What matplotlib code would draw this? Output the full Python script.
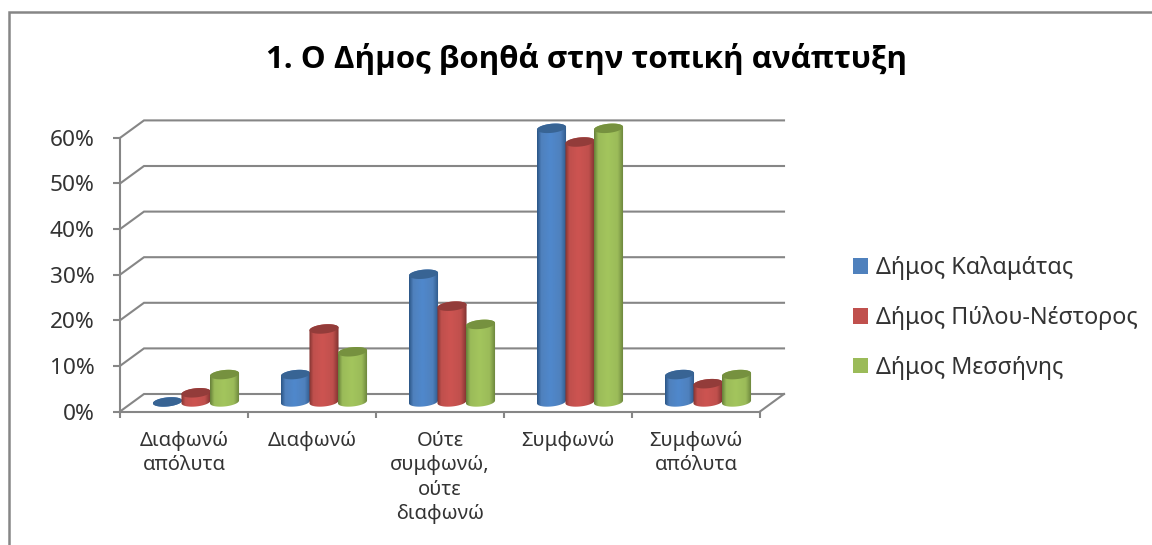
import numpy as np
import matplotlib.pyplot as plt
from matplotlib.colors import LinearSegmentedColormap
from matplotlib.lines import Line2D
from matplotlib.patches import Patch, PathPatch
from matplotlib.path import Path

title = "1. Ο Δήμος βοηθά στην τοπική ανάπτυξη"
categories = ["Διαφωνώ\nαπόλυτα", "Διαφωνώ", "Ούτε\nσυμφωνώ,\nούτε\nδιαφωνώ", "Συμφωνώ", "Συμφωνώ\nαπόλυτα"]
kalamata = [0, 6, 28, 60, 6]
pylos = [2, 16, 21, 57, 4]
messini = [6, 11, 17, 60, 6]
series_names = ["Δήμος Καλαμάτας", "Δήμος Πύλου-Νέστορος", "Δήμος Μεσσήνης"]
y_ticks = [0, 10, 20, 30, 40, 50, 60]

# main colour, edge colour, top colour, highlight
colors = [("#4f81bd", "#2c5687", "#386494", "#4f88cc"),
          ("#c0504d", "#7f3230", "#933c3a", "#cd5451"),
          ("#9bbb59", "#67803a", "#76913f", "#a3c55d")]
GREY = "#868686"
W, H = 1152, 545

plt.rcParams['font.family'] = ['Noto Sans', 'DejaVu Sans']
fig = plt.figure(figsize=(W / 100, H / 100), dpi=100)
ax = fig.add_axes([120 / W, 1 - 411.5 / H, 640 / W, 273.6 / H])
ax.set_xlim(0, 5)
ax.set_ylim(0, 60)

# depth of the fake 3d box, in data units
depth_x = 24 / 128
depth_y = 17.5 / 4.56
bar_w = 0.2227
rx = bar_w / 2 * 1.02
ry = 1.0
tilt = 0.3


def ellipse_xy(cx, cy, t):
    return cx + rx * np.cos(t), cy + ry * np.sin(t) + tilt * np.cos(t)


def draw_cylinder(cx, base, value, col):
    main, edge, top, light = col
    t_low = np.linspace(np.pi, 2 * np.pi, 30)
    t_up = np.linspace(0, np.pi, 30)
    xb, yb = ellipse_xy(cx, base, t_low)
    xt, yt = ellipse_xy(cx, base + value, t_up)
    pts = np.column_stack([np.r_[xb, xt], np.r_[yb, yt]])
    clip = PathPatch(Path(np.vstack([pts, pts[0]]), closed=True), fc="none", ec="none",
                     transform=ax.transData, clip_on=False)
    ax.add_patch(clip)
    cmap = LinearSegmentedColormap.from_list(
        "c", [(0, edge), (0.14, main), (0.45, light), (0.8, main), (1, edge)])
    img = ax.imshow(np.linspace(0, 1, 64).reshape(1, -1), cmap=cmap, aspect="auto",
                    extent=(cx - rx, cx + rx, base - ry - tilt, base + value + ry + tilt),
                    zorder=3)
    # the top of the cylinder goes past the axes box
    img.set_clip_box(fig.bbox)
    img.set_clip_path(clip)
    xc, yc = ellipse_xy(cx, base + value, np.linspace(0, 2 * np.pi, 60))
    ax.fill(xc, yc, color=top, lw=0, zorder=3, clip_on=False)
    ax.set_xlim(0, 5)
    ax.set_ylim(0, 60)


# back wall lines
for v in y_ticks:
    ax.plot([0, depth_x, 5 + depth_x], [v, v + depth_y, v + depth_y], color=GREY, lw=1.5,
            clip_on=False, zorder=1, solid_joinstyle="miter")
ax.plot([5, 5 + depth_x], [0, depth_y], color=GREY, lw=1.5, clip_on=False, zorder=1)

for k, vals in enumerate([kalamata, pylos, messini]):
    for i, v in enumerate(vals):
        draw_cylinder(i + 0.5 + depth_x / 2 + (k - 1) * bar_w, 2.1, v, colors[k])

for s in ["top", "right"]:
    ax.spines[s].set_visible(False)
for s in ["left", "bottom"]:
    ax.spines[s].set_color(GREY)
    ax.spines[s].set_linewidth(1.5)
ax.patch.set_visible(False)

ax.set_yticks(y_ticks)
ax.set_yticklabels([f"{v}%" for v in y_ticks], fontsize=16.3, color="#333333")
ax.tick_params(axis="y", length=5, width=1.5, color=GREY, pad=13.5)
ax.set_xticks(range(6))
ax.set_xticklabels([])
ax.set_xticks(np.arange(5) + 0.5, categories, minor=True, fontsize=14.5, color="#333333",
              linespacing=1.3)
ax.tick_params(axis="x", which="major", length=4.5, width=1.5, color=GREY)
ax.tick_params(axis="x", which="minor", length=0, pad=14)

fig.text(586 / W, 1 - 59 / H, title, ha="center", va="center", fontsize=22.5,
         fontweight="bold", color="black", family=['Open Sans', 'DejaVu Sans'])

handles = [Patch(fc=c[0], ec="none") for c in colors]
fig.legend(handles, series_names, loc="center left", bbox_to_anchor=(853 / W, 1 - 318 / H),
           frameon=False, fontsize=16.8, labelcolor="#333333", handlelength=0.65,
           handleheight=0.65, handletextpad=0.35, labelspacing=1.1, borderpad=0,
           borderaxespad=0)

# chart frame, cut by the screenshot on the other sides
fig.add_artist(Line2D([9 / W, 9 / W, 1], [0, 1 - 12 / H, 1 - 12 / H], color=GREY, lw=1.8,
                      solid_joinstyle="miter"))

fig.savefig("out.png", dpi=100)
